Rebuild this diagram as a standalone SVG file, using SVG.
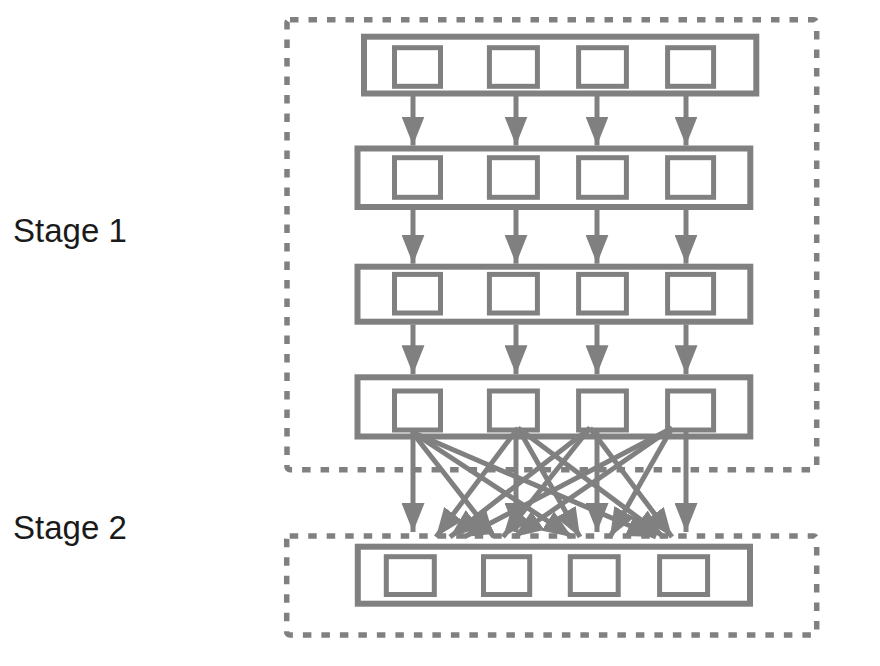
<svg xmlns="http://www.w3.org/2000/svg" width="880" height="666" viewBox="0 0 880 666">
<style>
.stage{fill:none;stroke:#808080;stroke-width:5.5;stroke-dasharray:8.5 10}
.row{fill:#fff;stroke:#808080;stroke-width:6}
.cell{fill:#fff;stroke:#808080;stroke-width:5}
.conn{stroke:#808080;stroke-width:5;fill:none;marker-end:url(#ah)}
.lbl{font-family:"Liberation Sans",Arial,sans-serif;font-size:33px;fill:#1a1a1a}
</style>
<defs>
<marker id="ah" markerUnits="userSpaceOnUse" markerWidth="29" markerHeight="23" refX="29" refY="11.5" orient="auto">
<path d="M0,0 L29,11.5 L0,23 z" fill="#808080"/>
</marker>
</defs>
<rect width="880" height="666" fill="#fff"/>
<g id="labels">
<text class="lbl" x="13" y="242">Stage 1</text>
<text class="lbl" x="13" y="539">Stage 2</text>
</g>
<g id="stage1">
<rect class="stage" x="287" y="19.7" width="529.7" height="450" rx="3"/>
</g>
<g id="stage2">
<rect class="stage" x="286.7" y="536" width="530" height="99" rx="3"/>
</g>
<g id="row1">
<rect class="row" x="364" y="36.7" width="392.3" height="56.8"/>
<rect class="cell" x="394.5" y="47.7" width="46" height="38.6"/>
<rect class="cell" x="489.4" y="47.7" width="48" height="38.6"/>
<rect class="cell" x="578.6" y="47.7" width="47.8" height="38.6"/>
<rect class="cell" x="667.6" y="47.7" width="46" height="38.6"/>
</g>
<g id="row2">
<rect class="row" x="357.5" y="148.5" width="392.8" height="58.5"/>
<rect class="cell" x="394.5" y="157.7" width="46" height="39.6"/>
<rect class="cell" x="489.4" y="157.7" width="48" height="39.6"/>
<rect class="cell" x="578.6" y="157.7" width="47.8" height="39.6"/>
<rect class="cell" x="667.6" y="157.7" width="46" height="39.6"/>
</g>
<g id="row3">
<rect class="row" x="357.5" y="266.7" width="392.8" height="55"/>
<rect class="cell" x="394.5" y="274.4" width="46" height="38.6"/>
<rect class="cell" x="489.4" y="274.4" width="48" height="38.6"/>
<rect class="cell" x="578.6" y="274.4" width="47.8" height="38.6"/>
<rect class="cell" x="667.6" y="274.4" width="46" height="38.6"/>
</g>
<g id="row4">
<rect class="row" x="357.5" y="377.3" width="392.8" height="59.2"/>
<rect class="cell" x="394.5" y="391" width="46" height="39"/>
<rect class="cell" x="489.4" y="391" width="48" height="39"/>
<rect class="cell" x="578.6" y="391" width="47.8" height="39"/>
<rect class="cell" x="667.6" y="391" width="46" height="39"/>
</g>
<g id="row5">
<rect class="row" x="357.8" y="546.7" width="392.2" height="57"/>
<rect class="cell" x="386.3" y="556.7" width="48" height="37.8"/>
<rect class="cell" x="483.5" y="556.7" width="46.2" height="37.8"/>
<rect class="cell" x="570.3" y="556.7" width="47.9" height="37.8"/>
<rect class="cell" x="659.6" y="556.7" width="48" height="37.8"/>
</g>
<g id="connectors">
<line class="conn" x1="413" y1="96" x2="413" y2="145.5"/>
<line class="conn" x1="516" y1="96" x2="516" y2="145.5"/>
<line class="conn" x1="597" y1="96" x2="597" y2="145.5"/>
<line class="conn" x1="686" y1="96" x2="686" y2="145.5"/>
<line class="conn" x1="413" y1="210" x2="413" y2="263.7"/>
<line class="conn" x1="516" y1="210" x2="516" y2="263.7"/>
<line class="conn" x1="597" y1="210" x2="597" y2="263.7"/>
<line class="conn" x1="686" y1="210" x2="686" y2="263.7"/>
<line class="conn" x1="413" y1="324.5" x2="413" y2="374.3"/>
<line class="conn" x1="516" y1="324.5" x2="516" y2="374.3"/>
<line class="conn" x1="597" y1="324.5" x2="597" y2="374.3"/>
<line class="conn" x1="686" y1="324.5" x2="686" y2="374.3"/>
<line class="conn" x1="413" y1="432" x2="413" y2="532"/>
<line class="conn" x1="516" y1="428" x2="516" y2="532"/>
<line class="conn" x1="597" y1="430" x2="597" y2="532"/>
<line class="conn" x1="686" y1="432" x2="686" y2="532"/>
<line class="conn" x1="412" y1="432" x2="494" y2="537"/>
<line class="conn" x1="412" y1="432" x2="572" y2="537"/>
<line class="conn" x1="412" y1="432" x2="656" y2="537"/>
<line class="conn" x1="518" y1="428" x2="436" y2="537"/>
<line class="conn" x1="518" y1="428" x2="580" y2="537"/>
<line class="conn" x1="518" y1="428" x2="664" y2="537"/>
<line class="conn" x1="590" y1="428" x2="450" y2="537"/>
<line class="conn" x1="590" y1="428" x2="503" y2="537"/>
<line class="conn" x1="590" y1="428" x2="672" y2="537"/>
<line class="conn" x1="672" y1="428" x2="464" y2="537"/>
<line class="conn" x1="672" y1="428" x2="514" y2="537"/>
<line class="conn" x1="672" y1="428" x2="610" y2="537"/>
</g>
</svg>
